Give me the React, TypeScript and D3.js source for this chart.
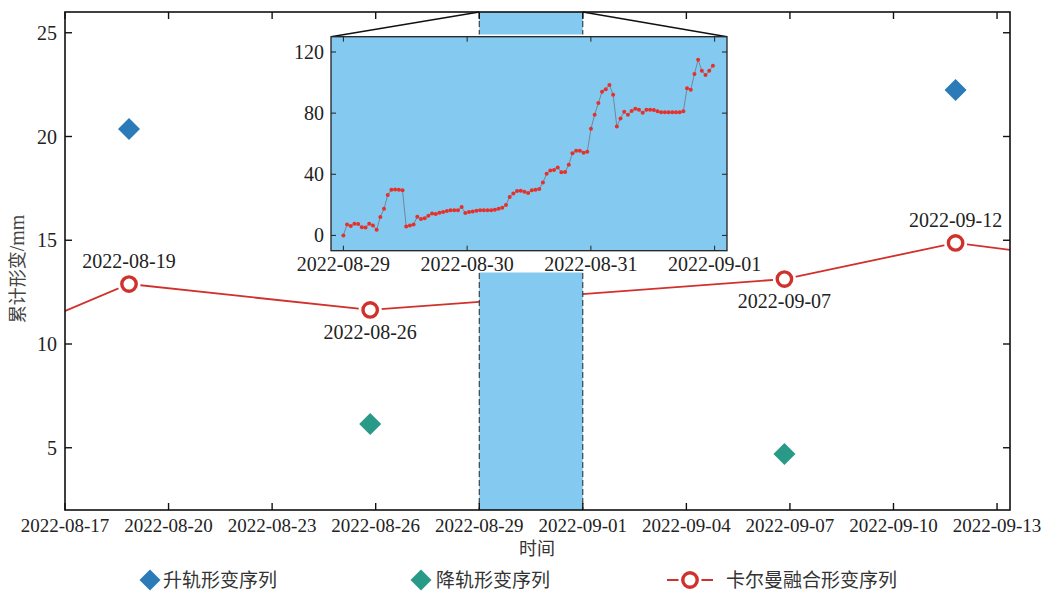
import React from "react";
import * as d3 from "d3";

// main series (cumulative deformation, mm)
const ascDates = ["2022-08-18T20:30", "2022-09-11T19:10"];
const ascValues = [20.36, 22.24];
const descDates = ["2022-08-25T20:10", "2022-09-06T20:10"];
const descValues = [6.14, 4.7];
const fusedDates = [
    "2022-08-12T20:30",
    "2022-08-18T20:30",
    "2022-08-25T20:10",
    "2022-09-06T20:10",
    "2022-09-11T19:10",
    "2022-09-16T19:10"
];
const fusedValues = [8.69, 12.89, 11.64, 13.13, 14.87, 13.8];
const fusedLabels = ["", "2022-08-19", "2022-08-26", "2022-09-07", "2022-09-12", ""];
const fusedLabelAbove = [true, true, false, false, true, true];

const mainTicksY = [5, 10, 15, 20, 25];
const mainTickDates = [
    "2022-08-17", "2022-08-20", "2022-08-23", "2022-08-26", "2022-08-29",
    "2022-09-01", "2022-09-04", "2022-09-07", "2022-09-10", "2022-09-13"
];
const zoomWindow = ["2022-08-29", "2022-09-01"];

// inset: high-rate series from 2022-08-29, one sample every 43 min
const insetStart = "2022-08-29T00:00";
const insetStepMinutes = 43;
const insetValues = [
    0, 7.2, 6.1, 7.6, 7.4, 5.4, 5.2, 7.6, 6.5, 3.7,
    12, 17.4, 26.4, 29.9, 30.1, 29.9, 29.6, 5.9, 6.5, 7.2,
    12.2, 10.7, 11.3, 12.9, 14.4, 14.0, 14.9, 15.3, 16.0, 16.4,
    16.4, 16.4, 18.6, 14.7, 15.3, 15.7, 16.2, 16.4, 16.4, 16.4,
    16.4, 16.8, 17.5, 18.1, 19.9, 25.1, 27.5, 29.0, 29.2, 28.6,
    27.7, 29.5, 29.8, 30.3, 34.6, 40.3, 42.5, 42.8, 44.5, 41.4,
    41.5, 46.3, 53.8, 55.4, 55.4, 54.0, 54.7, 69.7, 79.0, 86.6,
    94.0, 95.7, 98.4, 92.1, 71.3, 76.5, 80.9, 78.9, 81.4, 82.9,
    82.2, 80.3, 82.2, 82.2, 82.0, 81.2, 80.5, 80.5, 80.5, 80.5,
    80.5, 80.5, 81.2, 96.2, 95.3, 105.6, 114.9, 107.7, 104.9, 107.7,
    111.0
];
const insetTicksY = [0, 40, 80, 120];
const insetTickDates = ["2022-08-29", "2022-08-30", "2022-08-31", "2022-09-01"];

const legendItems = ["升轨形变序列", "降轨形变序列", "卡尔曼融合形变序列"];

const parse = (s: string) => new Date(s.length > 10 ? s : s + "T00:00");
const fmt = d3.timeFormat("%Y-%m-%d");

const SERIF = "'Liberation Serif', 'Times New Roman', serif";
const CJK = "'Noto Sans CJK SC', 'Noto Sans', sans-serif";
const SKY = "#84c9ef";
const RED = "#d1312c";
const BLUE = "#2a7bb8";
const TEAL = "#2a9a88";

const main = { left: 65, right: 1010, top: 12, bottom: 510 };
const inset = { left: 331, right: 727, top: 36.7, bottom: 250.7 };

const diamond = (cx: number, cy: number, r: number) =>
    `M${cx},${cy - r}L${cx + r},${cy}L${cx},${cy + r}L${cx - r},${cy}Z`;

export default function App() {
    const x = d3
        .scaleTime()
        .domain([parse("2022-08-17"), d3.timeHour.offset(parse("2022-09-13"), 9.4)])
        .range([main.left, main.right]);
    const y = d3.scaleLinear().domain([2, 26]).range([main.bottom, main.top]);

    const x0 = parse(zoomWindow[0]);
    const x1 = parse(zoomWindow[1]);
    const xi = d3
        .scaleTime()
        .domain([d3.timeMinute.offset(x0, -144), d3.timeMinute.offset(x1, 144)])
        .range([inset.left, inset.right]);
    const yi = d3.scaleLinear().domain([-10, 130]).range([inset.bottom, inset.top]);

    const insetPts = insetValues.map((v, i) => ({
        t: d3.timeMinute.offset(parse(insetStart), i * insetStepMinutes),
        v
    }));
    const fusedPts = fusedDates.map((d, i) => ({ t: parse(d), v: fusedValues[i] }));

    const mainLine = d3
        .line<{ t: Date; v: number }>()
        .x(d => x(d.t))
        .y(d => y(d.v));
    const insetLine = d3
        .line<{ t: Date; v: number }>()
        .x(d => xi(d.t))
        .y(d => yi(d.v));

    const rx0 = x(x0);
    const rx1 = x(x1);

    return (
        <svg
            width={1042}
            height={593}
            style={{ position: "absolute", left: 0, top: 0, background: "#fff" }}
        >
            <defs>
                <clipPath id="plotClip">
                    <rect
                        x={main.left}
                        y={main.top}
                        width={main.right - main.left}
                        height={main.bottom - main.top}
                    />
                </clipPath>
            </defs>

            {/* fused series */}
            <g clipPath="url(#plotClip)">
                <path d={mainLine(fusedPts) || ""} fill="none" stroke={RED} strokeWidth={1.8} />
                {fusedPts.map((d, i) => (
                    <circle key={"h" + i} cx={x(d.t)} cy={y(d.v)} r={11.5} fill="#fff" />
                ))}
                {fusedPts.map((d, i) => (
                    <circle
                        key={"c" + i}
                        cx={x(d.t)}
                        cy={y(d.v)}
                        r={7.2}
                        fill="#fff"
                        stroke={RED}
                        strokeWidth={3.4}
                    />
                ))}
            </g>

            {/* highlighted window */}
            <rect
                x={rx0}
                y={main.top}
                width={rx1 - rx0}
                height={main.bottom - main.top}
                fill={SKY}
            />
            <line x1={rx0} x2={rx0} y1={main.top} y2={main.bottom} stroke="#222" strokeDasharray="6 3" />
            <line x1={rx1} x2={rx1} y1={main.top} y2={main.bottom} stroke="#222" strokeDasharray="6 3" />

            {/* inset */}
            <rect x={286} y={34.5} width={458} height={238} fill="#fff" />
            <line x1={rx0} y1={main.top} x2={inset.left} y2={inset.top} stroke="#111" strokeWidth={1.5} />
            <line x1={rx1} y1={main.top} x2={inset.right} y2={inset.top} stroke="#111" strokeWidth={1.5} />
            <rect
                x={inset.left}
                y={inset.top}
                width={inset.right - inset.left}
                height={inset.bottom - inset.top}
                fill={SKY}
                stroke="#222"
                strokeWidth={1.3}
            />
            {insetTicksY.map(t => (
                <g key={"iy" + t}>
                    <line x1={inset.left} x2={inset.left + 5} y1={yi(t)} y2={yi(t)} stroke="#222" />
                    <line x1={inset.right} x2={inset.right - 5} y1={yi(t)} y2={yi(t)} stroke="#222" />
                    <text
                        x={inset.left - 7}
                        y={yi(t)}
                        dy="0.35em"
                        textAnchor="end"
                        fontFamily={SERIF}
                        fontSize={20}
                        fill="#222"
                    >
                        {t}
                    </text>
                </g>
            ))}
            {insetTickDates.map(d => {
                const px = xi(parse(d));
                return (
                    <g key={"ix" + d}>
                        <line x1={px} x2={px} y1={inset.bottom} y2={inset.bottom - 5} stroke="#222" />
                        <line x1={px} x2={px} y1={inset.top} y2={inset.top + 5} stroke="#222" />
                        <text
                            x={px}
                            y={inset.bottom + 20}
                            textAnchor="middle"
                            fontFamily={SERIF}
                            fontSize={20}
                            fill="#222"
                        >
                            {d}
                        </text>
                    </g>
                );
            })}
            <path d={insetLine(insetPts) || ""} fill="none" stroke="#6f7f8e" strokeWidth={0.9} />
            {insetPts.map((d, i) => (
                <circle key={"ip" + i} cx={xi(d.t)} cy={yi(d.v)} r={2} fill="#e8302a" />
            ))}

            {/* SAR series */}
            {ascDates.map((d, i) => (
                <path key={"a" + i} d={diamond(x(parse(d)), y(ascValues[i]), 11)} fill={BLUE} />
            ))}
            {descDates.map((d, i) => (
                <path key={"d" + i} d={diamond(x(parse(d)), y(descValues[i]), 11)} fill={TEAL} />
            ))}

            {/* date labels on fused markers */}
            {fusedPts.map((d, i) =>
                fusedLabels[i] ? (
                    <text
                        key={"l" + i}
                        x={x(d.t)}
                        y={y(d.v) + (fusedLabelAbove[i] ? -16 : 29)}
                        textAnchor="middle"
                        fontFamily={SERIF}
                        fontSize={20}
                        fill="#222"
                    >
                        {fusedLabels[i]}
                    </text>
                ) : null
            )}

            {/* main axes box */}
            <rect
                x={main.left}
                y={main.top}
                width={main.right - main.left}
                height={main.bottom - main.top}
                fill="none"
                stroke="#111"
                strokeWidth={1.6}
            />
            {mainTicksY.map(t => (
                <g key={"my" + t}>
                    <line x1={main.left} x2={main.left + 7} y1={y(t)} y2={y(t)} stroke="#111" strokeWidth={1.4} />
                    <line x1={main.right} x2={main.right - 7} y1={y(t)} y2={y(t)} stroke="#111" strokeWidth={1.4} />
                    <text
                        x={main.left - 8}
                        y={y(t)}
                        dy="0.35em"
                        textAnchor="end"
                        fontFamily={SERIF}
                        fontSize={20}
                        fill="#222"
                    >
                        {t}
                    </text>
                </g>
            ))}
            {mainTickDates.map(d => {
                const px = x(parse(d));
                return (
                    <g key={"mx" + d}>
                        <line x1={px} x2={px} y1={main.bottom} y2={main.bottom - 7} stroke="#111" strokeWidth={1.4} />
                        <line x1={px} x2={px} y1={main.top} y2={main.top + 7} stroke="#111" strokeWidth={1.4} />
                        <text
                            x={px}
                            y={main.bottom + 22}
                            textAnchor="middle"
                            fontFamily={SERIF}
                            fontSize={19}
                            fill="#222"
                        >
                            {fmt(parse(d))}
                        </text>
                    </g>
                );
            })}

            {/* axis titles */}
            <text
                transform={`translate(24,${(main.top + main.bottom) / 2 + 8}) rotate(-90)`}
                textAnchor="middle"
                fontFamily={SERIF}
                fontSize={20}
                fill="#444"
            >
                <tspan fontFamily={CJK} fontSize={18}>累计形变</tspan>/mm
            </text>
            <text x={537} y={555} textAnchor="middle" fontFamily={CJK} fontSize={18} fill="#333">
                时间
            </text>

            {/* legend */}
            <path d={diamond(150, 580, 10.5)} fill={BLUE} />
            <text x={163} y={580} dy="0.35em" fontFamily={CJK} fontSize={19} fill="#333">
                {legendItems[0]}
            </text>
            <path d={diamond(421, 580, 10.5)} fill={TEAL} />
            <text x={436} y={580} dy="0.35em" fontFamily={CJK} fontSize={19} fill="#333">
                {legendItems[1]}
            </text>
            <line x1={667} x2={713} y1={580} y2={580} stroke={RED} strokeWidth={1.8} />
            <circle cx={690} cy={580} r={11.5} fill="#fff" />
            <circle cx={690} cy={580} r={7.2} fill="#fff" stroke={RED} strokeWidth={3.4} />
            <text x={726} y={580} dy="0.35em" fontFamily={CJK} fontSize={19} fill="#333">
                {legendItems[2]}
            </text>
        </svg>
    );
}
